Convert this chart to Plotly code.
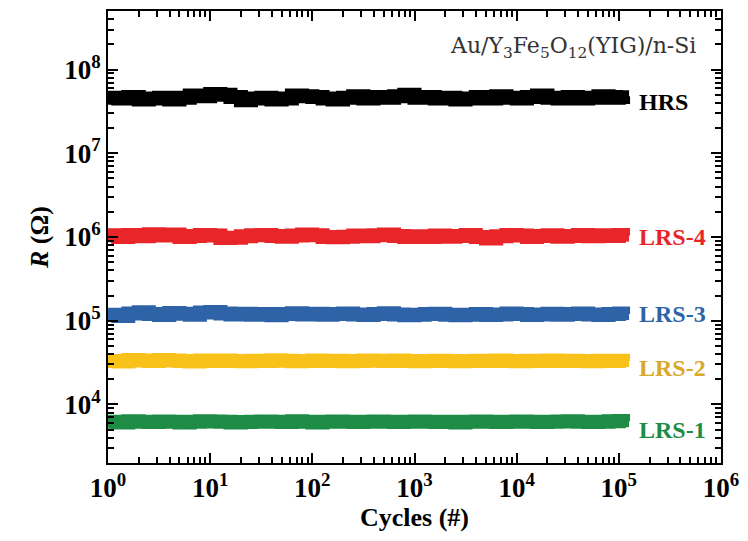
import math
import plotly.graph_objects as go

cycles = [1, 1.26, 1.58, 2, 2.51, 3.16, 3.98, 5.01, 6.31, 7.94,
          10, 12.6, 15.8, 20, 25.1, 31.6, 39.8, 50.1, 63.1, 79.4,
          100, 126, 158, 200, 251, 316, 398, 501, 631, 794,
          1000, 1260, 1580, 2000, 2510, 3160, 3980, 5010, 6310, 7940,
          10000, 12600, 15800, 20000, 25100, 31600, 39800, 50100, 63100, 79400,
          100000, 110000]

hrs = [4.6e7, 4.5e7, 4.7e7, 4.4e7, 4.5e7, 4.6e7, 4.4e7, 4.6e7, 4.9e7, 4.8e7,
       5.1e7, 5.0e7, 4.7e7, 4.3e7, 4.5e7, 4.6e7, 4.4e7, 4.5e7, 4.9e7, 4.8e7,
       4.7e7, 4.5e7, 4.4e7, 4.6e7, 4.8e7, 4.5e7, 4.7e7, 4.6e7, 4.8e7, 5.0e7,
       4.6e7, 4.7e7, 4.5e7, 4.6e7, 4.4e7, 4.5e7, 4.7e7, 4.5e7, 4.8e7, 4.6e7,
       4.5e7, 4.7e7, 4.9e7, 4.6e7, 4.5e7, 4.7e7, 4.5e7, 4.6e7, 4.8e7, 4.6e7,
       4.7e7, 4.8e7]
lrs4 = [1.05e6, 1.0e6, 1.06e6, 1.02e6, 1.08e6, 1.04e6, 1.07e6, 1.0e6, 1.03e6, 1.06e6,
        1.04e6, 0.97e6, 0.98e6, 1.02e6, 1.05e6, 1.06e6, 1.03e6, 1.01e6, 1.04e6, 1.07e6,
        1.05e6, 1.0e6, 0.99e6, 1.01e6, 1.04e6, 1.02e6, 1.05e6, 1.07e6, 1.03e6, 1.0e6,
        1.02e6, 1.0e6, 1.04e6, 1.01e6, 1.03e6, 1.06e6, 1.0e6, 0.96e6, 1.02e6, 1.06e6,
        1.04e6, 1.0e6, 1.03e6, 1.05e6, 1.01e6, 1.03e6, 1.06e6, 1.02e6, 1.05e6, 1.03e6,
        1.06e6, 1.04e6]
lrs3 = [1.18e5, 1.14e5, 1.22e5, 1.26e5, 1.2e5, 1.17e5, 1.24e5, 1.21e5, 1.18e5, 1.25e5,
        1.27e5, 1.22e5, 1.19e5, 1.21e5, 1.18e5, 1.2e5, 1.16e5, 1.2e5, 1.23e5, 1.19e5,
        1.21e5, 1.18e5, 1.2e5, 1.22e5, 1.19e5, 1.17e5, 1.2e5, 1.23e5, 1.19e5, 1.16e5,
        1.18e5, 1.2e5, 1.21e5, 1.18e5, 1.16e5, 1.18e5, 1.2e5, 1.17e5, 1.19e5, 1.22e5,
        1.2e5, 1.17e5, 1.19e5, 1.21e5, 1.18e5, 1.2e5, 1.22e5, 1.19e5, 1.17e5, 1.2e5,
        1.22e5, 1.2e5]
lrs2 = [3.3e4, 3.25e4, 3.4e4, 3.35e4, 3.3e4, 3.4e4, 3.35e4, 3.3e4, 3.25e4, 3.35e4,
        3.3e4, 3.35e4, 3.3e4, 3.28e4, 3.33e4, 3.3e4, 3.36e4, 3.32e4, 3.28e4, 3.3e4,
        3.34e4, 3.3e4, 3.32e4, 3.28e4, 3.3e4, 3.35e4, 3.32e4, 3.3e4, 3.34e4, 3.3e4,
        3.28e4, 3.3e4, 3.33e4, 3.3e4, 3.27e4, 3.3e4, 3.32e4, 3.3e4, 3.35e4, 3.3e4,
        3.28e4, 3.32e4, 3.3e4, 3.34e4, 3.3e4, 3.32e4, 3.3e4, 3.28e4, 3.32e4, 3.3e4,
        3.32e4, 3.3e4]
lrs1 = [6.2e3, 6.1e3, 6.3e3, 6.2e3, 6.15e3, 6.25e3, 6.2e3, 6.1e3, 6.2e3, 6.3e3,
        6.25e3, 6.2e3, 6.1e3, 6.15e3, 6.2e3, 6.25e3, 6.2e3, 6.15e3, 6.3e3, 6.2e3,
        6.1e3, 6.2e3, 6.25e3, 6.2e3, 6.15e3, 6.2e3, 6.25e3, 6.2e3, 6.15e3, 6.2e3,
        6.25e3, 6.2e3, 6.15e3, 6.2e3, 6.1e3, 6.2e3, 6.25e3, 6.2e3, 6.15e3, 6.2e3,
        6.25e3, 6.2e3, 6.15e3, 6.2e3, 6.25e3, 6.3e3, 6.2e3, 6.15e3, 6.2e3, 6.3e3,
        6.35e3, 6.3e3]

series_names = ["HRS", "LRS-4", "LRS-3", "LRS-2", "LRS-1"]
series_values = [hrs, lrs4, lrs3, lrs2, lrs1]
series_colors = ["#000000", "#e8262a", "#2e63a8", "#f9c21a", "#1e8c45"]
label_colors = ["#000000", "#e8262a", "#2e63a8", "#d9a92a", "#1e8c45"]
label_y = [4.1e7, 1.0e6, 1.2e5, 2.7e4, 5.0e3]
label_x = 1.5e5

x_exps = [0, 1, 2, 3, 4, 5, 6]
y_exps = [4, 5, 6, 7, 8]
x_ticktext = ["10<sup>%d</sup>" % e for e in x_exps]
y_ticktext = ["10<sup>%d</sup>" % e for e in y_exps]
x_minor = [m * 10 ** e for e in range(0, 6) for m in range(2, 10)]
y_minor = [m * 10 ** e for e in range(3, 9) for m in range(2, 10)]
x_range = [0, 6]
y_range = [3.3, 8.7]

title_text = "Au/Y<sub>3</sub>Fe<sub>5</sub>O<sub>12</sub>(YIG)/n-Si"

fig = go.Figure()
for name, vals, col in zip(series_names, series_values, series_colors):
    fig.add_trace(go.Scatter(
        x=cycles, y=vals, mode="lines+markers", name=name,
        line=dict(color=col, width=14, shape="hv"),
        marker=dict(symbol="square", size=12, color=col),
        showlegend=False,
    ))

for name, ly, col in zip(series_names, label_y, label_colors):
    fig.add_annotation(x=math.log10(label_x), y=math.log10(ly), xref="x", yref="y",
                       text="<b>%s</b>" % name, showarrow=False, xanchor="left",
                       font=dict(family="Liberation Serif", size=24, color=col))

fig.add_annotation(x=0.962, y=0.92, xref="paper", yref="paper", text=title_text,
                   showarrow=False, xanchor="right", yanchor="middle",
                   font=dict(family="DejaVu Serif", size=22, color="#333333"))

axis_common = dict(
    type="log", showgrid=False, zeroline=False,
    showline=True, linecolor="black", linewidth=2, mirror="ticks",
    ticks="inside", tickcolor="black", ticklen=10, tickwidth=2,
)
tick_font = dict(family="Liberation Serif", size=27, color="black", weight="bold")

fig.update_layout(
    width=748, height=541,
    margin=dict(l=108, r=26, t=9, b=78),
    paper_bgcolor="white", plot_bgcolor="white",
    xaxis=dict(**axis_common, range=x_range,
               tickvals=[10 ** e for e in x_exps], ticktext=x_ticktext, tickfont=tick_font,
               minor=dict(ticks="inside", ticklen=6, tickwidth=1.5, tickcolor="black",
                          tickvals=x_minor, showgrid=False),
               title=dict(text="<b>Cycles (#)</b>", standoff=4,
                          font=dict(family="Liberation Serif", size=26, color="black"))),
    yaxis=dict(**axis_common, range=y_range,
               tickvals=[10 ** e for e in y_exps], ticktext=y_ticktext, tickfont=tick_font,
               minor=dict(ticks="inside", ticklen=6, tickwidth=1.5, tickcolor="black",
                          tickvals=y_minor, showgrid=False),
               title=dict(text="<b><i>R</i> (Ω)</b>", standoff=8,
                          font=dict(family="Liberation Serif", size=26, color="black"))),
)

fig.write_html("out.html")
